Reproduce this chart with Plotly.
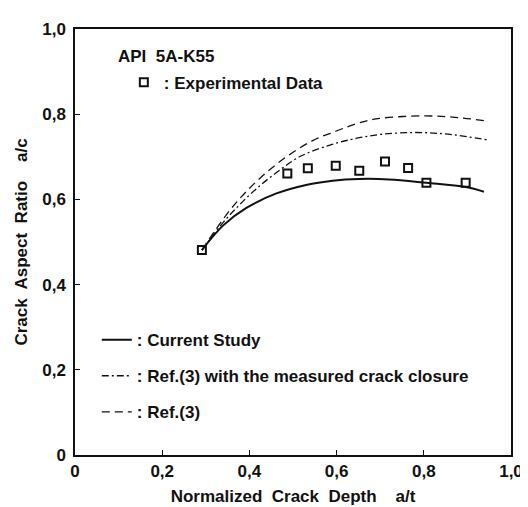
import plotly.graph_objects as go

# ---- data ----
exp_x = [0.291, 0.487, 0.534, 0.598, 0.652, 0.711, 0.764, 0.806, 0.896]
exp_y = [0.481, 0.661, 0.673, 0.679, 0.667, 0.689, 0.674, 0.639, 0.639]

cur_x = [0.291, 0.340, 0.393, 0.462, 0.530, 0.591, 0.651, 0.720, 0.806, 0.896, 0.938]
cur_y = [0.481, 0.539, 0.580, 0.614, 0.634, 0.644, 0.648, 0.647, 0.639, 0.629, 0.618]

clo_x = [0.291, 0.340, 0.378, 0.416, 0.462, 0.515, 0.583, 0.644, 0.705, 0.781, 0.856, 0.944]
clo_y = [0.481, 0.546, 0.588, 0.625, 0.663, 0.700, 0.727, 0.743, 0.753, 0.757, 0.753, 0.740]

ref_x = [0.291, 0.348, 0.386, 0.431, 0.485, 0.545, 0.598, 0.644, 0.690, 0.803, 0.879, 0.944]
ref_y = [0.481, 0.565, 0.611, 0.656, 0.700, 0.738, 0.760, 0.777, 0.789, 0.796, 0.792, 0.784]

tick_vals = [0, 0.2, 0.4, 0.6, 0.8, 1.0]
tick_text = ["0", "0,2", "0,4", "0,6", "0,8", "1,0"]

FONT = "Liberation Sans"
BLACK = "#111111"
SIZE = 17


def bold(size=SIZE):
    return dict(family=FONT, size=size, color=BLACK, weight="bold")


fig = go.Figure()

fig.add_trace(go.Scatter(
    x=cur_x, y=cur_y, mode="lines", name=": Current Study",
    line=dict(color=BLACK, width=2, shape="spline"),
    legend="legend2", legendgroup="a"))
fig.add_trace(go.Scatter(
    x=clo_x, y=clo_y, mode="lines", name=": Ref.(3) with the measured crack closure",
    line=dict(color=BLACK, width=1.3, dash="7px,3px,2px,3px", shape="spline"),
    legend="legend2", legendgroup="b"))
fig.add_trace(go.Scatter(
    x=ref_x, y=ref_y, mode="lines", name=": Ref.(3)",
    line=dict(color=BLACK, width=1.3, dash="8px,5px", shape="spline"),
    legend="legend2", legendgroup="c"))
fig.add_trace(go.Scatter(
    x=exp_x, y=exp_y, mode="markers", name=": Experimental Data",
    marker=dict(symbol="square-open", size=8, color=BLACK, line=dict(width=2, color=BLACK)),
    legend="legend", showlegend=True))

axis_common = dict(
    range=[0, 1], tickvals=tick_vals, ticktext=tick_text,
    showgrid=False, zeroline=False, showline=True, mirror=True,
    linecolor=BLACK, linewidth=1.5, ticks="inside", ticklen=5,
    tickcolor=BLACK, tickwidth=1.2,
    tickfont=bold(),
)

fig.update_layout(
    width=528, height=507,
    margin=dict(l=64, r=25, t=18, b=59),
    paper_bgcolor="white", plot_bgcolor="white",
    font=dict(family=FONT, color=BLACK),
    showlegend=True,
    xaxis=dict(axis_common,
               title=dict(text="Normalized  Crack  Depth    a/t", standoff=10,
                          font=bold())),
    yaxis=dict(axis_common, ticklabelstandoff=4,
               title=dict(text="Crack  Aspect  Ratio    a/c", standoff=10,
                          font=bold())),
    legend=dict(x=0.112, y=0.916, xanchor="left", yanchor="top",
                bgcolor="rgba(0,0,0,0)", itemwidth=30,
                font=bold()),
    legend2=dict(x=0.050, y=0.312, xanchor="left", yanchor="top",
                 bgcolor="rgba(0,0,0,0)", itemwidth=30, tracegroupgap=11,
                 font=bold()),
    annotations=[dict(text="API  5A-K55", xref="paper", yref="paper",
                      x=0.093, y=0.935, xanchor="left", yanchor="middle",
                      showarrow=False, font=bold())],
)

fig.write_html("out.html")
